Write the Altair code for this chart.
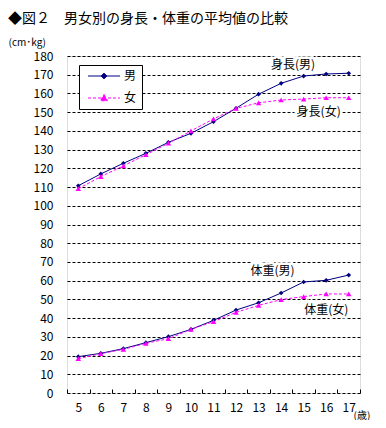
import altair as alt
import pandas as pd

ages = [5, 6, 7, 8, 9, 10, 11, 12, 13, 14, 15, 16, 17]
height_m = [110.7, 117.0, 122.7, 128.0, 133.9, 138.7, 144.9, 152.1, 159.6, 165.4, 169.3, 170.4, 170.8]
height_f = [109.1, 115.6, 121.3, 127.3, 133.4, 140.0, 146.4, 152.0, 155.0, 156.5, 157.0, 157.7, 157.7]
weight_m = [19.4, 21.2, 23.7, 26.9, 30.1, 34.0, 38.8, 44.3, 48.2, 53.4, 59.3, 60.2, 63.0]
weight_f = [18.3, 21.0, 23.3, 26.5, 29.0, 34.0, 38.1, 43.1, 46.8, 49.9, 51.5, 52.9, 52.9]

series_names = ["男", "女"]
label_texts = ["身長(男)", "身長(女)", "体重(男)", "体重(女)"]
label_ages = [14, 15, 13, 16]
label_vals = [175.2, 150.0, 65.3, 44.3]
label_dx = [12, 15, 14, 0]

y_ticks = list(range(0, 181, 10))
TITLE = "◆図２　男女別の身長・体重の平均値の比較"
FONT = "Noto Sans CJK JP"
NAVY = "#000080"
MAGENTA = "#FF00FF"

rows = []
for i, a in enumerate(ages):
    rows.append({"age": a, "series": "男", "kind": "身長", "value": height_m[i]})
    rows.append({"age": a, "series": "女", "kind": "身長", "value": height_f[i]})
    rows.append({"age": a, "series": "男", "kind": "体重", "value": weight_m[i]})
    rows.append({"age": a, "series": "女", "kind": "体重", "value": weight_f[i]})
df = pd.DataFrame(rows)

labels_df = pd.DataFrame({"age": label_ages, "value": label_vals, "text": label_texts})

x_enc = alt.X(
    "age:O",
    scale=alt.Scale(domain=ages, paddingInner=0, paddingOuter=0),
    axis=alt.Axis(
        title="(歳)", titleX=286, titleY=26, titleAlign="left", titleBaseline="middle",
        titleFontSize=10, titleFontWeight="normal", titleFont=FONT,
        labelAngle=0, labelFontSize=12, labelFont=FONT, labelColor="black", labelPadding=9,
        tickBand="extent", tickSize=4, tickColor="black", offset=-4, domain=False, grid=False,
    ),
)
y_enc = alt.Y(
    "value:Q",
    scale=alt.Scale(domain=[0, 180], nice=False, zero=True),
    axis=alt.Axis(
        values=y_ticks, title="(cm･kg)", titleAngle=0, titleX=-59, titleY=-14,
        titleAlign="left", titleBaseline="middle", titleFontSize=10, titleFontWeight="normal",
        titleFont=FONT, labelFontSize=12, labelFont=FONT, labelColor="black", labelPadding=14,
        ticks=False, domain=False, grid=True, gridColor="black", gridDash=[3, 2],
        gridOpacity=1, gridWidth=1,
    ),
)

base = alt.Chart(df)

line_m = base.transform_filter(alt.datum.series == "男").mark_line(
    color=NAVY, strokeWidth=1).encode(x=x_enc, y=y_enc, detail="kind:N")
line_f = base.transform_filter(alt.datum.series == "女").mark_line(
    color=MAGENTA, strokeWidth=1, strokeDash=[3, 2]).encode(x=x_enc, y=y_enc, detail="kind:N")
pt_m = base.transform_filter(alt.datum.series == "男").mark_point(
    shape="diamond", filled=True, color=NAVY, size=22, opacity=1).encode(x=x_enc, y=y_enc)
pt_f = base.transform_filter(alt.datum.series == "女").mark_point(
    shape="triangle-up", filled=True, color=MAGENTA, size=30, opacity=1).encode(x=x_enc, y=y_enc)

male_path = "M-3.2,0H3.2M0,-0.6L0.6,0L0,0.6L-0.6,0Z"
female_path = "M-3.2,0H3.2M0,-0.7L0.7,0.55L-0.7,0.55Z"

legend = alt.Legend(
    title=None, orient="none", legendX=12, legendY=9, strokeColor="black", fillColor="white",
    padding=5, symbolSize=100, symbolOffset=14, labelOffset=14, rowPadding=10,
    labelFontSize=12, labelFont=FONT, labelColor="black", symbolOpacity=1, symbolStrokeWidth=1,
    cornerRadius=0,
)
legend_layer = base.mark_point(filled=True, opacity=0).encode(
    x=x_enc, y=y_enc,
    color=alt.Color("series:N", scale=alt.Scale(domain=series_names, range=[NAVY, MAGENTA]), legend=legend),
    stroke=alt.Stroke("series:N", scale=alt.Scale(domain=series_names, range=[NAVY, MAGENTA]), legend=legend),
    shape=alt.Shape("series:N", scale=alt.Scale(domain=series_names, range=[male_path, female_path]), legend=legend),
    strokeDash=alt.StrokeDash("series:N", scale=alt.Scale(domain=series_names, range=[[1, 0], [3, 2]]), legend=legend),
)

text_layers = []
for txt, d in zip(label_texts, label_dx):
    src = alt.Chart(labels_df).transform_filter(alt.datum.text == txt)
    text_layers.append(src.mark_text(font=FONT, fontSize=12, stroke="white", strokeWidth=5,
                                     color="white", dx=d).encode(x=x_enc, y=y_enc, text="text:N"))
    text_layers.append(src.mark_text(font=FONT, fontSize=12, color="black", dx=d).encode(
        x=x_enc, y=y_enc, text="text:N"))

title = alt.Chart(alt.Data(values=[{"t": TITLE}])).mark_text(
    font=FONT, fontSize=14, align="left", baseline="middle", color="black").encode(
    x=alt.value(-59), y=alt.value(-37), text="t:N")

chart = alt.layer(line_m, line_f, pt_m, pt_f, legend_layer, *text_layers, title).properties(
    width=293, height=337,
    autosize=alt.AutoSizeParams(type="none"),
    padding={"left": 59, "top": 48, "right": 18, "bottom": 27},
).configure_view(stroke="black", strokeWidth=1).configure(background="white")

chart.save("out.html", embed_options={"renderer": "svg", "actions": False})
